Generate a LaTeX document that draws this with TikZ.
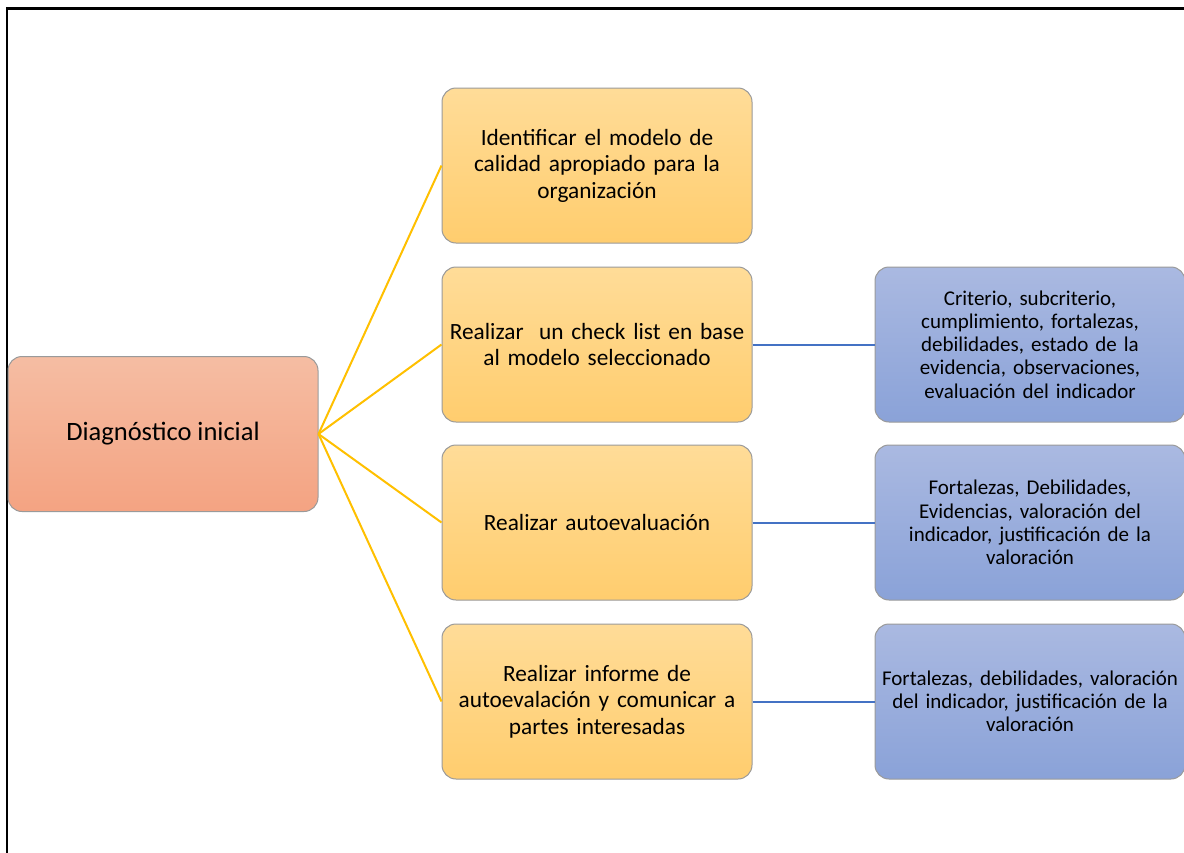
\documentclass[tikz,border=0pt]{standalone}
\usepackage{fontspec}
\setmainfont{Carlito}
\definecolor{orangeTop}{HTML}{F5BDA3}
\definecolor{orangeBot}{HTML}{F4A382}
\definecolor{yellowTop}{HTML}{FFDC98}
\definecolor{yellowBot}{HTML}{FFCD6E}
\definecolor{blueTop}{HTML}{AAB9E1}
\definecolor{blueBot}{HTML}{8AA2D8}
\definecolor{gold}{HTML}{FFC000}
\definecolor{linkblue}{HTML}{4472C4}
\definecolor{rim}{HTML}{9A9A9A}
\tikzset{
  box/.style={rounded corners=14pt, draw=rim, line width=1pt,
    minimum width=310pt, minimum height=155pt, align=center,
    text=black, inner sep=0pt},
  rootbox/.style={box, top color=orangeTop, bottom color=orangeBot,
    font=\fontsize{26.5}{32}\selectfont},
  stepbox/.style={box, top color=yellowTop, bottom color=yellowBot,
    text width=300pt, font=\fontsize{23.3}{26.5}\selectfont},
  detailbox/.style={box, top color=blueTop, bottom color=blueBot,
    text width=308pt, font=\fontsize{21}{23.2}\selectfont},
  goldlink/.style={draw=gold, line width=2pt},
  bluelink/.style={draw=linkblue, line width=2pt},
}
\begin{document}
\begin{tikzpicture}[x=1pt,y=-1pt]
\useasboundingbox (0,0) rectangle (1184,852);
\fill[white] (0,0) rectangle (1184,852);
% outer frame, running off the right and bottom edges
\draw[line width=2.2pt, black] (1210,8.5) -- (7,8.5) -- (7,880);

\node[rootbox] (root) at (163,434) {Diagnóstico inicial};

\node[stepbox] (s1) at (597,165.5) {Identificar el modelo de\\calidad apropiado para la\\organización};
\node[stepbox] (s2) at (597,344.5) {Realizar\ \ un check list en base\\al modelo seleccionado};
\node[stepbox] (s3) at (597,522.5) {Realizar autoevaluación};
\node[stepbox] (s4) at (597,701.5) {Realizar informe de\\autoevalación y comunicar a\\partes interesadas};

\node[detailbox] (d2) at (1030,344.5) {Criterio, subcriterio,\\cumplimiento, fortalezas,\\debilidades, estado de la\\evidencia, observaciones,\\evaluación del indicador};
\node[detailbox] (d3) at (1030,522.5) {Fortalezas, Debilidades,\\Evidencias, valoración del\\indicador, justificación de la\\valoración};
\node[detailbox] (d4) at (1030,701.5) {Fortalezas, debilidades, valoración\\del indicador, justificación de la\\valoración};

\foreach \s in {s1,s2,s3,s4}
  \draw[goldlink] (root.east) -- (\s.west);
\draw[bluelink] (s2.east) -- (d2.west);
\draw[bluelink] (s3.east) -- (d3.west);
\draw[bluelink] (s4.east) -- (d4.west);
\end{tikzpicture}
\end{document}
